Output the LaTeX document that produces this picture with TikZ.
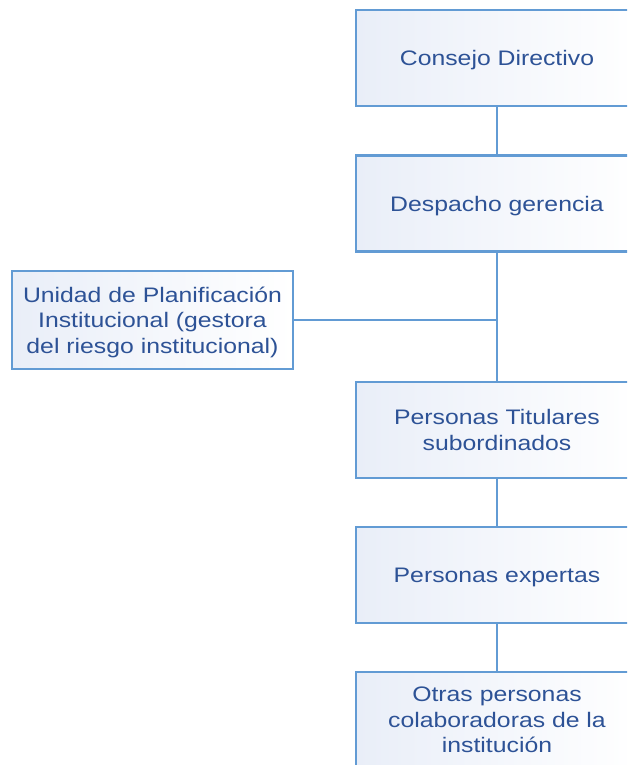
\documentclass[tikz,border=0pt]{standalone}
\usepackage{fontspec}
\setmainfont[FakeStretch=1.18]{Liberation Sans}
\usepackage{tikz}
\usetikzlibrary{calc}
\definecolor{boxline}{RGB}{98,155,212}
\definecolor{boxtext}{RGB}{45,82,150}
\definecolor{boxfill}{RGB}{233,238,248}

\begin{document}
\begin{tikzpicture}[x=1pt,y=-1pt]
\tikzset{unit/.style = {shape=rectangle,draw=boxline,line width=2.3pt,shading=axis,shading angle=60,
  left color=boxfill,right color=white,text=boxtext,align=center,
  font=\fontsize{21}{25.5}\selectfont,inner sep=0pt,text depth=0pt}}
\tikzset{wide/.style = {unit,minimum width=282,minimum height=96}}
\tikzset{link/.style = {draw=boxline,line width=2.8pt}}
\useasboundingbox (0,0) rectangle (627,765);
\clip (0,0) rectangle (627,765);
\fill[white] (0,0) rectangle (627,765);
%\draw (0,0) rectangle (627,765);
\node[wide] (consejo) at (497,58) {Consejo Directivo};
\node[wide] (despacho) at (497,203.5) {Despacho gerencia};
\node[unit,minimum width=281,minimum height=98] (unidad) at (152.5,320) {Unidad de Planificación\\Institucional (gestora\\del riesgo institucional)};
\node[wide] (titulares) at (497,430) {Personas Titulares\\subordinados};
\node[wide] (expertas) at (497,575) {Personas expertas};
\node[wide] (otras) at (497,720) {Otras personas\\colaboradoras de la\\institución};
\draw[link] (consejo) to (despacho);
\draw[link] (despacho) to (titulares);
\draw[link] (unidad.east) to (unidad.east -| despacho.south);
\draw[link] (titulares) to (expertas);
\draw[link] (expertas) to (otras);
\end{tikzpicture}
\end{document}
